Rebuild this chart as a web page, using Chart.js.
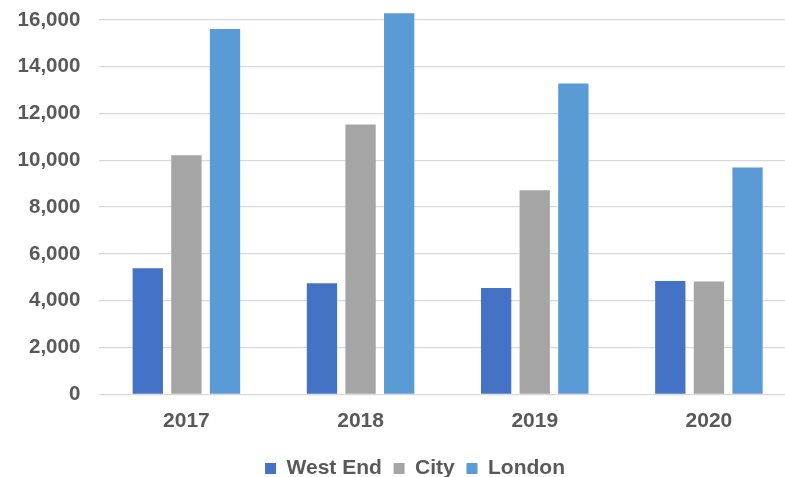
<!DOCTYPE html>
<html>
<head>
<meta charset="utf-8">
<script src="https://cdn.jsdelivr.net/npm/chart.js@4/dist/chart.umd.min.js"></script>
<style>
  html, body { margin: 0; padding: 0; background: #fff; overflow: hidden; }
  #wrap { width: 785px; height: 477px; overflow: hidden; position: relative; }
  canvas { display: block; position: absolute; left: 0; top: -47px; }
</style>
</head>
<body>
<div id="wrap"><canvas id="c" width="830" height="524"></canvas></div>
<script>
const categories = ['2017', '2018', '2019', '2020'];
const westEnd = [5390, 4750, 4540, 4840];
const city = [10220, 11530, 8720, 4820];
const london = [15620, 16290, 13280, 9690];
const yTicks = [0, 2000, 4000, 6000, 8000, 10000, 12000, 14000, 16000, 18000];

const textColor = '#595959';
const fontFamily = "'Liberation Sans', Arial, sans-serif";

const legendFitPlugin = {
  id: 'legendFit',
  beforeInit(chart) {
    const lg = chart.legend;
    if (lg) {
      const orig = lg.fit;
      lg.fit = function () {
        orig.call(this);
        this.height = 33.25;
      };
    }
  },
  afterLayout(chart) {
    const lg = chart.legend;
    if (lg) {
      lg.left += 17;
      lg.right += 17;
      lg.top += 2.5;
      lg.bottom += 2.5;
      if (lg.adjustHitBoxes) lg.adjustHitBoxes();
    }
  }
};

new Chart(document.getElementById('c'), {
  type: 'bar',
  data: {
    labels: categories,
    datasets: [
      { label: 'West End', data: westEnd, backgroundColor: '#4472C4', borderWidth: 0 },
      { label: 'City', data: city, backgroundColor: '#A5A5A5', borderWidth: 0 },
      { label: 'London', data: london, backgroundColor: '#5B9BD5', borderWidth: 0 }
    ]
  },
  options: {
    responsive: false,
    animation: false,
    devicePixelRatio: 1,
    layout: { padding: { top: 20.2, right: 34, bottom: 0, left: 0 } },
    datasets: { bar: { categoryPercentage: 0.665, barPercentage: 0.785 } },
    plugins: {
      tooltip: { enabled: false },
      legend: {
        position: 'bottom',
        labels: {
          boxWidth: 11,
          boxHeight: 11,
          padding: 11.75,
          color: textColor,
          font: { family: fontFamily, size: 21, weight: 'bold' }
        }
      }
    },
    scales: {
      x: {
        grid: { display: false, drawTicks: false },
        border: { display: false },
        ticks: {
          color: textColor,
          padding: 14.5,
          font: { family: fontFamily, size: 21, weight: 'bold' }
        },
        afterFit(scale) { scale.height = 49.45; }
      },
      y: {
        min: 0,
        max: 18000,
        afterBuildTicks(scale) { scale.ticks = yTicks.map(v => ({ value: v })); },
        grid: { color: '#D9D9D9', lineWidth: 1.3, drawTicks: false },
        border: { display: false },
        ticks: {
          color: textColor,
          padding: 19,
          font: { family: fontFamily, size: 20.5, weight: 'bold' },
          callback: v => Number(v).toLocaleString('en-US')
        },
        afterFit(scale) {
          scale.width = 99.3;
          scale.paddingTop = 0;
          scale.paddingBottom = 0;
        }
      }
    }
  },
  plugins: [legendFitPlugin]
});
</script>
</body>
</html>
